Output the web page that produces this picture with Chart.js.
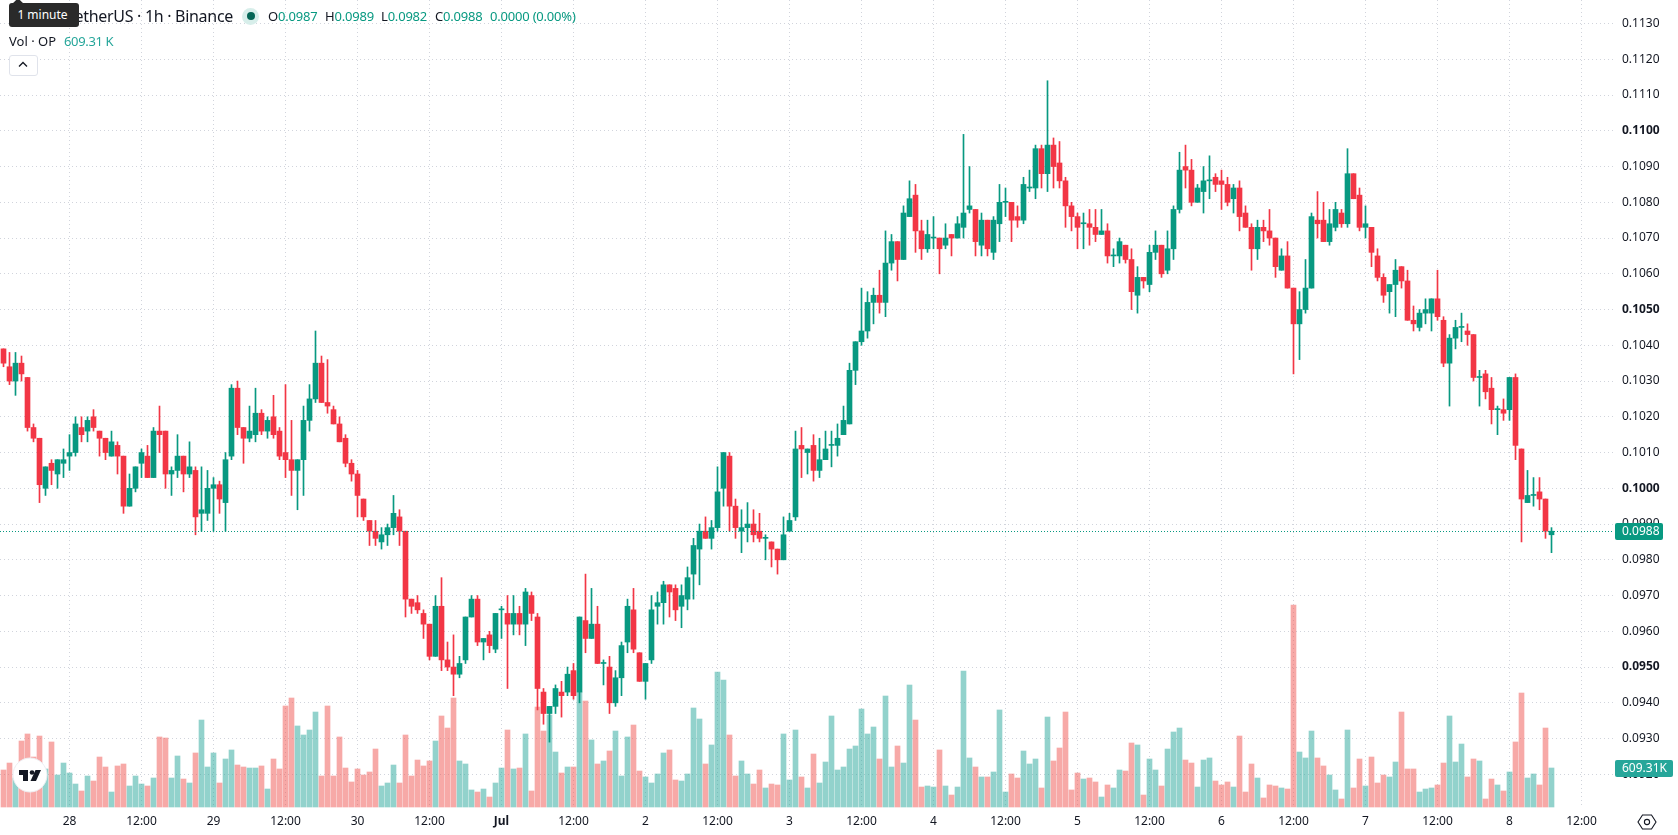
<!DOCTYPE html>
<html>
<head>
<meta charset="utf-8">
<title>OP / TetherUS 1h</title>
<script src="https://cdn.jsdelivr.net/npm/chart.js@4"></script>
<style>
html, body { margin: 0; padding: 0; background: #fff; overflow: hidden; }
canvas { display: block; }
#wrap { position: relative; width: 1678px; height: 835px; font-family: "Noto Sans", sans-serif; color: #131722; }
#wrap > div, #wrap > svg { position: absolute; white-space: nowrap; }
.up { color: #089981; }
.row { top: 7px; font-size: 13px; line-height: 18px; letter-spacing: -0.2px; }
</style>
</head>
<body>
<div id="wrap">
  <canvas id="chart" width="1678" height="835"></canvas>

  <div style="right:1445px;top:4px;font-size:16px;line-height:24px;letter-spacing:-0.3px">OP / TetherUS · 1h · Binance</div>
  <div style="left:242px;top:8px;width:17px;height:17px;border-radius:50%;background:#d7eeea"></div>
  <div style="left:247px;top:12px;width:8px;height:8px;border-radius:50%;background:#056656"></div>
  <div class="row" style="left:268px">O<span class="up">0.0987</span></div>
  <div class="row" style="left:325px">H<span class="up">0.0989</span></div>
  <div class="row" style="left:381px">L<span class="up">0.0982</span></div>
  <div class="row" style="left:435px">C<span class="up">0.0988</span></div>
  <div class="row up" style="left:490px">0.0000 (0.00%)</div>
  <div style="left:9px;top:32px;font-size:13px;line-height:18px">Vol · OP</div>
  <div style="left:64px;top:32px;font-size:13px;line-height:18px;letter-spacing:-0.35px;color:#26a69a">609.31 K</div>

  <!-- collapse button -->
  <div style="left:9px;top:55px;width:27px;height:19px;border:1px solid #e0e3eb;border-radius:3px;background:#fff"></div>
  <svg style="left:17px;top:60px" width="12" height="9"><path d="M2 6.5 L6 2.5 L10 6.5" fill="none" stroke="#131722" stroke-width="1.3"/></svg>

  <!-- hover hint over the title -->
  <div style="left:12px;top:0;width:12px;height:4px;background:#2a2a2a;clip-path:polygon(0 100%,35% 0,65% 0,100% 100%)"></div>
  <div style="left:9px;top:3px;width:67px;padding-right:3px;height:24px;border-radius:3px;background:#2a2a2a;color:#fff;font-size:12px;line-height:24px;text-align:center">1 minute</div>

  <!-- logo badge -->
  <svg style="left:12px;top:757px" width="36" height="36">
    <circle cx="18" cy="18" r="17" fill="#fff" stroke="#eceef2"/>
    <path d="M7 13 H16 V24 H11 V18 H7 Z" fill="#131722"/>
    <circle cx="20" cy="15.5" r="2.3" fill="#131722"/>
    <path d="M23.5 13 H29 L24 24 H18.5 Z" fill="#131722"/>
  </svg>

  <!-- settings icon -->
  <svg style="left:1637px;top:813px" width="20" height="18">
    <path d="M5.5 2 H14.5 L19 9 L14.5 16 H5.5 L1 9 Z" fill="none" stroke="#131722" stroke-width="1.1"/>
    <circle cx="10" cy="9" r="2.6" fill="none" stroke="#131722" stroke-width="1.1"/>
  </svg>
</div>

<script>
const GREEN = "#089981";
const RED = "#f23645";
const VOL_GREEN = "rgba(38,166,154,0.5)";
const VOL_RED = "rgba(239,83,80,0.5)";
const GRID = "#d1d4dc";
const FONT = "Noto Sans";

const opens = [
  0.1039,0.1034,0.1030,0.1035,0.1031,0.1017,0.1014,0.1000,0.1007,0.1004,
  0.1007,0.1009,0.1010,0.1017,0.1016,0.1020,0.1016,0.1014,0.1009,0.1012,
  0.1009,0.0995,0.1000,0.1007,0.1009,0.1003,0.1016,0.1016,0.1004,0.1005,
  0.1009,0.1004,0.1005,0.0993,0.0993,0.1000,0.1001,0.0996,0.1009,0.1028,
  0.1017,0.1014,0.1015,0.1021,0.1016,0.1020,0.1016,0.1010,0.1008,0.1005,
  0.1008,0.1019,0.1025,0.1035,0.1024,0.1022,0.1018,0.1014,0.1007,0.1004,
  0.0997,0.0991,0.0988,0.0985,0.0987,0.0989,0.0992,0.0988,0.0969,0.0968,
  0.0965,0.0962,0.0953,0.0967,0.0952,0.0950,0.0948,0.0952,0.0964,0.0969,
  0.0957,0.0959,0.0955,0.0966,0.0965,0.0962,0.0965,0.0962,0.0970,0.0964,
  0.0943,0.0937,0.0939,0.0943,0.0943,0.0949,0.0943,0.0963,0.0958,0.0962,
  0.0951,0.0950,0.0940,0.0947,0.0957,0.0966,0.0954,0.0946,0.0952,0.0967,
  0.0968,0.0973,0.0972,0.0967,0.0969,0.0976,0.0983,0.0988,0.0986,0.0989,
  0.1000,0.1009,0.0995,0.0988,0.0989,0.0990,0.0988,0.0986,0.0985,0.0983,
  0.0980,0.0988,0.0992,0.1012,0.1010,0.1012,0.1005,0.1008,0.1012,0.1012,
  0.1015,0.1018,0.1033,0.1041,0.1044,0.1052,0.1054,0.1052,0.1063,0.1069,
  0.1064,0.1076,0.1082,0.1072,0.1067,0.1070,0.1070,0.1068,0.1071,0.1070,
  0.1073,0.1078,0.1078,0.1068,0.1075,0.1066,0.1074,0.1080,0.1080,0.1076,
  0.1075,0.1084,0.1084,0.1095,0.1088,0.1096,0.1091,0.1086,0.1079,0.1076,
  0.1074,0.1074,0.1073,0.1071,0.1072,0.1065,0.1065,0.1068,0.1064,0.1054,
  0.1059,0.1057,0.1066,0.1068,0.1061,0.1067,0.1078,0.1090,0.1089,0.1080,
  0.1083,0.1086,0.1087,0.1086,0.1085,0.1081,0.1084,0.1077,0.1073,0.1067,
  0.1073,0.1072,0.1070,0.1061,0.1065,0.1056,0.1046,0.1050,0.1056,0.1075,
  0.1075,0.1069,0.1073,0.1077,0.1074,0.1088,0.1082,0.1073,0.1073,0.1065,
  0.1059,0.1055,0.1057,0.1062,0.1058,0.1047,0.1045,0.1049,0.1049,0.1053,
  0.1047,0.1035,0.1042,0.1045,0.1044,0.1043,0.1031,0.1032,0.1028,0.1022,
  0.1022,0.1022,0.1031,0.1011,0.0996,0.0998,0.0999,0.0997,0.0987
];

const closes = [
  0.1035,0.1030,0.1035,0.1032,0.1017,0.1014,0.1001,0.1006,0.1005,0.1008,
  0.1008,0.1010,0.1018,0.1015,0.1019,0.1017,0.1014,0.1010,0.1013,0.1009,
  0.0995,0.1000,0.1006,0.1010,0.1003,0.1016,0.1015,0.1004,0.1005,0.1009,
  0.1004,0.1006,0.0992,0.0994,0.1000,0.1001,0.0997,0.1008,0.1028,0.1017,
  0.1014,0.1016,0.1021,0.1016,0.1019,0.1015,0.1009,0.1008,0.1005,0.1008,
  0.1019,0.1025,0.1035,0.1024,0.1023,0.1018,0.1013,0.1007,0.1004,0.0998,
  0.0992,0.0988,0.0986,0.0987,0.0989,0.0993,0.0988,0.0969,0.0967,0.0966,
  0.0962,0.0953,0.0967,0.0952,0.0950,0.0948,0.0951,0.0964,0.0969,0.0957,
  0.0958,0.0956,0.0965,0.0966,0.0962,0.0965,0.0962,0.0971,0.0965,0.0944,
  0.0937,0.0939,0.0944,0.0942,0.0948,0.0942,0.0964,0.0958,0.0962,0.0951,
  0.0951,0.0940,0.0947,0.0956,0.0967,0.0955,0.0946,0.0951,0.0966,0.0968,
  0.0973,0.0971,0.0966,0.0970,0.0975,0.0984,0.0988,0.0986,0.0989,0.0999,
  0.1010,0.0995,0.0989,0.0989,0.0990,0.0987,0.0986,0.0986,0.0983,0.0980,
  0.0987,0.0991,0.1011,0.1011,0.1011,0.1005,0.1008,0.1011,0.1012,0.1014,
  0.1019,0.1033,0.1041,0.1044,0.1052,0.1054,0.1052,0.1063,0.1069,0.1064,
  0.1077,0.1081,0.1072,0.1067,0.1071,0.1070,0.1067,0.1070,0.1070,0.1074,
  0.1077,0.1079,0.1069,0.1075,0.1067,0.1075,0.1080,0.1080,0.1075,0.1075,
  0.1085,0.1084,0.1095,0.1088,0.1096,0.1090,0.1086,0.1079,0.1076,0.1073,
  0.1074,0.1073,0.1071,0.1072,0.1065,0.1065,0.1069,0.1064,0.1055,0.1059,
  0.1058,0.1066,0.1068,0.1060,0.1067,0.1078,0.1089,0.1089,0.1080,0.1084,
  0.1086,0.1086,0.1085,0.1085,0.1080,0.1084,0.1076,0.1073,0.1067,0.1073,
  0.1072,0.1070,0.1062,0.1065,0.1056,0.1046,0.1050,0.1056,0.1076,0.1074,
  0.1069,0.1074,0.1078,0.1074,0.1088,0.1081,0.1073,0.1074,0.1066,0.1059,
  0.1054,0.1057,0.1061,0.1058,0.1047,0.1046,0.1049,0.1050,0.1053,0.1048,
  0.1035,0.1042,0.1045,0.1045,0.1043,0.1031,0.1031,0.1027,0.1022,0.1022,
  0.1021,0.1031,0.1012,0.0997,0.0998,0.0998,0.0997,0.0988,0.0988
];

const highs = [
  0.1039,0.1038,0.1038,0.1037,0.1031,0.1018,0.1014,0.1006,0.1008,0.1008,
  0.1011,0.1015,0.1020,0.1020,0.1020,0.1022,0.1016,0.1014,0.1016,0.1013,
  0.1009,0.1004,0.1006,0.1011,0.1012,0.1017,0.1023,0.1016,0.1006,0.1015,
  0.1009,0.1013,0.1006,0.1006,0.1005,0.1003,0.1002,0.1010,0.1029,0.1030,
  0.1017,0.1023,0.1028,0.1022,0.1020,0.1026,0.1017,0.1029,0.1019,0.1008,
  0.1023,0.1029,0.1044,0.1037,0.1036,0.1023,0.1020,0.1015,0.1008,0.1005,
  0.0997,0.0991,0.0991,0.0989,0.0990,0.0998,0.0994,0.0988,0.0969,0.0970,
  0.0966,0.0962,0.0970,0.0975,0.0957,0.0959,0.0953,0.0964,0.0970,0.0970,
  0.0958,0.0960,0.0965,0.0967,0.0970,0.0970,0.0967,0.0972,0.0971,0.0965,
  0.0944,0.0939,0.0945,0.0946,0.0950,0.0951,0.0964,0.0976,0.0972,0.0967,
  0.0952,0.0953,0.0949,0.0957,0.0969,0.0972,0.0954,0.0951,0.0970,0.0971,
  0.0974,0.0973,0.0973,0.0973,0.0978,0.0986,0.0990,0.0992,0.0991,0.1006,
  0.1010,0.1010,0.0997,0.0994,0.0996,0.0994,0.0993,0.0987,0.0985,0.0983,
  0.0992,0.0993,0.1016,0.1017,0.1011,0.1015,0.1014,0.1016,0.1016,0.1018,
  0.1023,0.1035,0.1041,0.1056,0.1055,0.1056,0.1061,0.1072,0.1071,0.1069,
  0.1079,0.1086,0.1085,0.1075,0.1075,0.1076,0.1070,0.1074,0.1071,0.1076,
  0.1099,0.1090,0.1078,0.1077,0.1075,0.1076,0.1085,0.1084,0.1080,0.1079,
  0.1087,0.1089,0.1096,0.1096,0.1114,0.1098,0.1097,0.1087,0.1080,0.1077,
  0.1077,0.1078,0.1078,0.1078,0.1074,0.1067,0.1070,0.1068,0.1067,0.1062,
  0.1059,0.1068,0.1072,0.1068,0.1072,0.1079,0.1094,0.1096,0.1092,0.1085,
  0.1090,0.1093,0.1088,0.1089,0.1087,0.1085,0.1086,0.1079,0.1074,0.1075,
  0.1075,0.1078,0.1070,0.1067,0.1069,0.1056,0.1055,0.1064,0.1077,0.1083,
  0.1080,0.1078,0.1080,0.1078,0.1095,0.1088,0.1084,0.1079,0.1073,0.1067,
  0.1060,0.1057,0.1064,0.1062,0.1061,0.1051,0.1050,0.1053,0.1053,0.1061,
  0.1048,0.1043,0.1047,0.1049,0.1046,0.1043,0.1033,0.1033,0.1031,0.1023,
  0.1025,0.1031,0.1032,0.1011,0.1005,0.1003,0.1003,0.0997,0.0989
];

const lows = [
  0.1034,0.1029,0.1026,0.1030,0.1016,0.1013,0.0996,0.0998,0.1001,0.1000,
  0.1003,0.1005,0.1009,0.1013,0.1013,0.1016,0.1009,0.1008,0.1009,0.1004,
  0.0993,0.0995,0.0999,0.1003,0.1003,0.1003,0.1010,0.1000,0.0998,0.1003,
  0.0999,0.1003,0.0987,0.0988,0.0991,0.0988,0.0993,0.0988,0.1008,0.1015,
  0.1007,0.1013,0.1013,0.1015,0.1014,0.1014,0.1008,0.1003,0.0998,0.0994,
  0.0998,0.1016,0.1024,0.1024,0.1021,0.1018,0.1013,0.1006,0.1002,0.0992,
  0.0991,0.0984,0.0984,0.0983,0.0984,0.0987,0.0984,0.0964,0.0965,0.0965,
  0.0958,0.0952,0.0953,0.0949,0.0949,0.0942,0.0947,0.0951,0.0964,0.0956,
  0.0952,0.0954,0.0954,0.0958,0.0944,0.0959,0.0959,0.0956,0.0963,0.0938,
  0.0934,0.0929,0.0937,0.0936,0.0942,0.0941,0.0940,0.0954,0.0958,0.0951,
  0.0945,0.0937,0.0939,0.0942,0.0954,0.0954,0.0946,0.0941,0.0951,0.0962,
  0.0962,0.0964,0.0963,0.0961,0.0966,0.0969,0.0973,0.0986,0.0983,0.0988,
  0.0995,0.0988,0.0986,0.0982,0.0985,0.0985,0.0985,0.0980,0.0978,0.0976,
  0.0980,0.0988,0.0991,0.1003,0.1004,0.1002,0.1003,0.1008,0.1006,0.1009,
  0.1015,0.1018,0.1029,0.1040,0.1042,0.1046,0.1049,0.1048,0.1061,0.1058,
  0.1064,0.1076,0.1066,0.1064,0.1066,0.1067,0.1060,0.1067,0.1065,0.1070,
  0.1070,0.1077,0.1065,0.1065,0.1065,0.1064,0.1069,0.1076,0.1069,0.1073,
  0.1074,0.1083,0.1081,0.1084,0.1083,0.1084,0.1084,0.1073,0.1072,0.1067,
  0.1067,0.1068,0.1069,0.1071,0.1063,0.1062,0.1063,0.1063,0.1050,0.1049,
  0.1056,0.1055,0.1064,0.1059,0.1060,0.1064,0.1077,0.1084,0.1079,0.1080,
  0.1077,0.1081,0.1083,0.1078,0.1079,0.1077,0.1072,0.1073,0.1061,0.1064,
  0.1069,0.1068,0.1059,0.1061,0.1056,0.1032,0.1036,0.1049,0.1056,0.1070,
  0.1069,0.1068,0.1072,0.1073,0.1073,0.1081,0.1072,0.1070,0.1062,0.1058,
  0.1052,0.1049,0.1048,0.1056,0.1047,0.1044,0.1044,0.1046,0.1044,0.1047,
  0.1034,0.1023,0.1039,0.1041,0.1040,0.1030,0.1023,0.1025,0.1018,0.1015,
  0.1019,0.1019,0.1008,0.0985,0.0996,0.0995,0.0994,0.0986,0.0982
];

// volume in thousands of OP
const volumes = [
  578,687,453,1031,1141,781,1109,594,1016,500,
  687,531,359,250,484,406,781,625,234,641,
  672,328,484,359,328,453,1094,1078,453,797,
  437,375,844,1359,625,844,375,750,891,656,
  625,609,609,641,281,750,594,1578,1703,1266,
  1125,1203,1484,484,1578,484,1094,609,391,594,
  500,547,906,328,375,656,375,1125,484,734,
  641,719,1031,1422,1234,1703,719,672,266,234,
  281,156,375,609,1203,594,609,1141,250,1562,
  1187,1437,859,531,625,625,1797,1656,1047,672,
  719,875,1187,484,1094,1281,562,469,375,516,
  844,891,422,406,516,1547,1375,672,969,2109,
  1984,1125,484,719,516,359,578,297,359,344,
  1141,422,1203,469,297,828,375,703,1422,578,
  625,906,953,1531,1141,1250,750,1734,625,953,
  687,1906,1359,312,328,312,891,328,187,312,
  2125,766,625,469,469,547,1516,234,516,453,
  875,672,750,297,1406,719,922,1484,266,531,
  437,453,391,156,344,297,578,562,1000,969,
  187,750,578,328,906,1172,1234,734,687,312,
  734,766,406,344,391,312,1109,234,672,453,
  141,344,328,297,281,3156,859,766,1187,766,
  641,500,266,125,1203,297,750,328,781,375,
  500,469,703,1484,594,594,234,281,297,344,
  687,1422,703,984,469,750,719,125,437,344,
  250,547,1016,1781,453,516,344,1234,609.31
];

const timeLabels = ["28","12:00","29","12:00","30","12:00","Jul","12:00","2","12:00","3","12:00","4","12:00","5","12:00","6","12:00","7","12:00","8","12:00"];
const priceTicks = [0.1130,0.1120,0.1110,0.1100,0.1090,0.1080,0.1070,0.1060,0.1050,0.1040,0.1030,0.1020,0.1010,0.1000,0.0990,0.0980,0.0970,0.0960,0.0950,0.0940,0.0930,0.0920];
const boldPrices = ["0.1100","0.1050","0.1000","0.0950"];
const lastPrice = 0.0988;
const lastVolume = 609.31;

// first bar sits 11 hours before the "28" tick, one bar per hour
const firstTick = 11;
const barsPerTick = 12;

function up(i) {
  return closes[i] >= opens[i];
}

const candleColors = opens.map((o, i) => up(i) ? GREEN : RED);
const volumeColors = opens.map((o, i) => up(i) ? VOL_GREEN : VOL_RED);

// the plot runs edge to edge, so drop the room Chart.js keeps for edge labels
function noEdgePadding(scale) {
  scale.paddingTop = scale.paddingBottom = scale.paddingLeft = scale.paddingRight = 0;
  scale._margins = { left: 0, right: 0, top: 0, bottom: 0 };
}

// dotted last price line and the two value tags on the price axis
const lastValuePlugin = {
  id: "lastValue",
  afterDatasetsDraw(chart) {
    let ctx = chart.ctx;
    let y = Math.round(chart.scales.y.getPixelForValue(lastPrice) - 0.5) + 0.5;
    ctx.save();
    ctx.strokeStyle = GREEN;
    ctx.lineWidth = 1;
    ctx.setLineDash([1, 2]);
    ctx.beginPath();
    ctx.moveTo(chart.chartArea.left, y);
    ctx.lineTo(chart.chartArea.right, y);
    ctx.stroke();
    ctx.restore();
  },
  afterDraw(chart) {
    let ctx = chart.ctx;
    let left = chart.chartArea.right + 1;
    let tag = (text, y, w, color) => {
      ctx.fillStyle = color;
      ctx.beginPath();
      ctx.roundRect(left, Math.round(y) - 8, w, 17, 2);
      ctx.fill();
      ctx.fillStyle = "#fff";
      ctx.font = "12px '" + FONT + "'";
      ctx.textAlign = "left";
      ctx.textBaseline = "middle";
      ctx.fillText(text, left + 7, Math.round(y) + 0.5);
    };
    ctx.save();
    tag(lastPrice.toFixed(4), chart.scales.y.getPixelForValue(lastPrice), 48, GREEN);
    tag("609.31K", chart.scales.vol.getPixelForValue(lastVolume), 58, "#26a69a");
    ctx.restore();
  }
};

const xs = opens.map((o, i) => i);

new Chart(document.getElementById("chart"), {
  type: "bar",
  plugins: [lastValuePlugin],
  data: {
    datasets: [
      {
        label: "Candle body",
        yAxisID: "y",
        order: 1,
        data: xs.map(i => ({ x: i, y: [opens[i], closes[i]] })),
        backgroundColor: candleColors,
        barThickness: 5,
        minBarLength: 1
      },
      {
        label: "Candle wick",
        yAxisID: "y",
        order: 2,
        data: xs.map(i => ({ x: i, y: [lows[i], highs[i]] })),
        backgroundColor: candleColors,
        barThickness: 1
      },
      {
        label: "Volume",
        yAxisID: "vol",
        order: 3,
        data: xs.map(i => ({ x: i, y: volumes[i] })),
        backgroundColor: volumeColors,
        barThickness: 5
      }
    ]
  },
  options: {
    responsive: false,
    animation: false,
    events: [],
    layout: { padding: 0 },
    datasets: { bar: { grouped: false } },
    plugins: {
      legend: { display: false },
      tooltip: { enabled: false }
    },
    scales: {
      x: {
        type: "linear",
        offset: false,
        min: -3.5 / 6,
        max: (1614 - 3.5) / 6,
        grid: { color: GRID, drawTicks: false, offset: false },
        border: { display: false, dash: [1, 3] },
        afterFit: scale => { scale.height = 27; noEdgePadding(scale); },
        afterBuildTicks: scale => {
          scale.ticks = timeLabels.map((t, k) => ({ value: firstTick + k * barsPerTick }));
        },
        ticks: {
          autoSkip: false,
          maxRotation: 0,
          padding: 6,
          color: "#131722",
          font: c => ({ family: FONT, size: 12, weight: timeLabels[c.index] === "Jul" ? "bold" : "normal" }),
          callback: (v, k) => timeLabels[k]
        }
      },
      y: {
        position: "right",
        min: 0.1 - (808 - 488.3) / 35750,
        max: 0.1 + 488.3 / 35750,
        grid: { color: GRID, drawTicks: false },
        border: { display: false, dash: [1, 3] },
        afterFit: scale => { scale.width = 64; noEdgePadding(scale); },
        afterBuildTicks: scale => {
          scale.ticks = priceTicks.map(v => ({ value: v }));
        },
        ticks: {
          autoSkip: false,
          crossAlign: "near",
          padding: 8,
          color: "#131722",
          font: c => ({ family: FONT, size: 12, weight: c.tick && boldPrices.includes(c.tick.value.toFixed(4)) ? "bold" : "normal" }),
          callback: v => v.toFixed(4)
        }
      },
      vol: {
        display: false,
        min: -15.6,
        max: 12609,
        afterFit: noEdgePadding
      }
    }
  }
});
</script>
</body>
</html>
